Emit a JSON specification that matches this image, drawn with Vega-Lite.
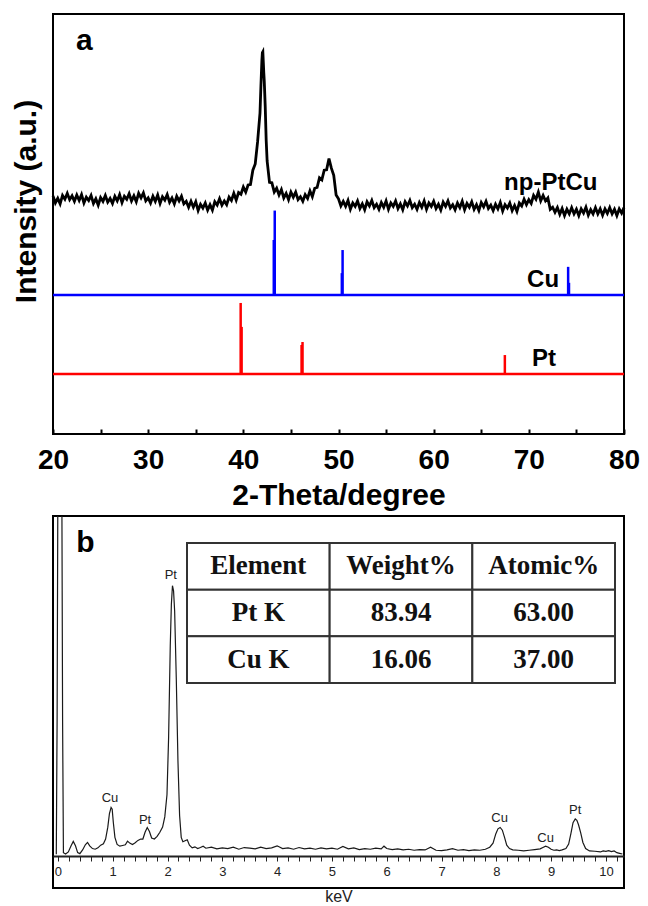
{
  "$schema": "https://vega.github.io/schema/vega-lite/v6.json",
  "background": "white",
  "padding": {"left": 10, "top": 13, "right": 5, "bottom": 0},
  "spacing": 4,
  "config": {
    "view": {"stroke": "black", "strokeWidth": 2},
    "font": "Liberation Sans",
    "axis": {"labelFont": "Liberation Sans", "titleFont": "Liberation Sans", "grid": false}
  },
  "datasets": {
    "xrd": [
      {"t":20.0,"i":56.7},{"t":20.25,"i":55.0},{"t":20.5,"i":56.1},{"t":20.75,"i":54.8},{"t":21.0,"i":56.8},{"t":21.25,"i":55.9},{"t":21.5,"i":57.3},{"t":21.75,"i":55.8},
      {"t":22.0,"i":56.7},{"t":22.25,"i":55.4},{"t":22.5,"i":56.9},{"t":22.75,"i":55.6},{"t":23.0,"i":57.0},{"t":23.25,"i":55.0},{"t":23.5,"i":56.4},{"t":23.75,"i":55.6},
      {"t":24.0,"i":56.8},{"t":24.25,"i":54.9},{"t":24.5,"i":56.0},{"t":24.75,"i":54.5},{"t":25.0,"i":56.3},{"t":25.25,"i":55.4},{"t":25.5,"i":56.8},{"t":25.75,"i":55.2},
      {"t":26.0,"i":56.1},{"t":26.25,"i":54.9},{"t":26.5,"i":56.6},{"t":26.75,"i":55.5},{"t":27.0,"i":57.0},{"t":27.25,"i":55.1},{"t":27.5,"i":56.6},{"t":27.75,"i":55.9},
      {"t":28.0,"i":57.2},{"t":28.25,"i":55.5},{"t":28.5,"i":56.7},{"t":28.75,"i":55.3},{"t":29.0,"i":57.3},{"t":29.25,"i":56.2},{"t":29.5,"i":57.4},{"t":29.75,"i":55.5},
      {"t":30.0,"i":56.2},{"t":30.25,"i":55.0},{"t":30.5,"i":56.6},{"t":30.75,"i":55.4},{"t":31.0,"i":56.9},{"t":31.25,"i":54.9},{"t":31.5,"i":56.5},{"t":31.75,"i":55.7},
      {"t":32.0,"i":57.0},{"t":32.25,"i":55.2},{"t":32.5,"i":56.2},{"t":32.75,"i":54.8},{"t":33.0,"i":56.6},{"t":33.25,"i":55.5},{"t":33.5,"i":56.6},{"t":33.75,"i":54.8},
      {"t":34.0,"i":55.4},{"t":34.25,"i":54.0},{"t":34.5,"i":55.4},{"t":34.75,"i":54.0},{"t":35.0,"i":55.3},{"t":35.25,"i":53.2},{"t":35.5,"i":54.7},{"t":35.75,"i":53.8},
      {"t":36.0,"i":55.0},{"t":36.25,"i":53.3},{"t":36.5,"i":54.6},{"t":36.75,"i":53.3},{"t":37.0,"i":55.3},{"t":37.25,"i":54.5},{"t":37.5,"i":56.0},{"t":37.75,"i":54.5},
      {"t":38.0,"i":55.5},{"t":38.25,"i":54.6},{"t":38.5,"i":56.4},{"t":38.75,"i":55.6},{"t":39.0,"i":57.3},{"t":39.25,"i":55.7},{"t":39.5,"i":57.5},{"t":39.75,"i":57.1},
      {"t":40.0,"i":58.8},{"t":40.25,"i":57.6},{"t":40.5,"i":59.3},{"t":40.75,"i":59.4},{"t":41.0,"i":62.8},{"t":41.25,"i":64.3},{"t":41.5,"i":69.6},{"t":41.75,"i":76.4},
      {"t":41.85,"i":83.0},{"t":41.95,"i":89.0},{"t":42.0,"i":90.8},{"t":42.05,"i":91.0},{"t":42.1,"i":88.5},{"t":42.15,"i":86.0},{"t":42.2,"i":84.0},{"t":42.3,"i":78.0},
      {"t":42.4,"i":70.0},{"t":42.5,"i":65.0},{"t":42.75,"i":59.9},{"t":43.0,"i":59.8},{"t":43.25,"i":57.6},{"t":43.5,"i":58.5},{"t":43.75,"i":56.9},
      {"t":44.0,"i":58.2},{"t":44.25,"i":56.2},{"t":44.5,"i":57.3},{"t":44.75,"i":55.8},{"t":45.0,"i":57.6},{"t":45.25,"i":56.4},{"t":45.5,"i":57.6},{"t":45.75,"i":55.8},
      {"t":46.0,"i":56.5},{"t":46.25,"i":55.4},{"t":46.5,"i":57.0},{"t":46.75,"i":56.1},{"t":47.0,"i":57.9},{"t":47.25,"i":56.5},{"t":47.5,"i":58.5},{"t":47.75,"i":58.7},
      {"t":48.0,"i":61.0},{"t":48.25,"i":60.5},{"t":48.5,"i":62.8},{"t":48.75,"i":62.9},{"t":49.0,"i":65.6},{"t":49.25,"i":63.3},{"t":49.5,"i":61.6},{"t":49.75,"i":56.9},
      {"t":50.0,"i":56.0},{"t":50.25,"i":54.3},{"t":50.5,"i":55.4},{"t":50.75,"i":54.2},{"t":51.0,"i":55.6},{"t":51.25,"i":53.5},{"t":51.5,"i":55.0},{"t":51.75,"i":54.2},
      {"t":52.0,"i":55.5},{"t":52.25,"i":53.7},{"t":52.5,"i":54.8},{"t":52.75,"i":53.4},{"t":53.0,"i":55.3},{"t":53.25,"i":54.3},{"t":53.5,"i":55.6},{"t":53.75,"i":53.9},
      {"t":54.0,"i":54.7},{"t":54.25,"i":53.5},{"t":54.5,"i":55.1},{"t":54.75,"i":54.0},{"t":55.0,"i":55.5},{"t":55.25,"i":53.5},{"t":55.5,"i":55.0},{"t":55.75,"i":54.2},
      {"t":56.0,"i":55.5},{"t":56.25,"i":53.7},{"t":56.5,"i":54.8},{"t":56.75,"i":53.4},{"t":57.0,"i":55.3},{"t":57.25,"i":54.3},{"t":57.5,"i":55.6},{"t":57.75,"i":53.9},
      {"t":58.0,"i":54.7},{"t":58.25,"i":53.5},{"t":58.5,"i":55.1},{"t":58.75,"i":54.0},{"t":59.0,"i":55.5},{"t":59.25,"i":53.5},{"t":59.5,"i":55.0},{"t":59.75,"i":54.2},
      {"t":60.0,"i":55.4},{"t":60.25,"i":53.7},{"t":60.5,"i":54.7},{"t":60.75,"i":53.3},{"t":61.0,"i":55.2},{"t":61.25,"i":54.2},{"t":61.5,"i":55.5},{"t":61.75,"i":53.8},
      {"t":62.0,"i":54.6},{"t":62.25,"i":53.4},{"t":62.5,"i":55.0},{"t":62.75,"i":53.9},{"t":63.0,"i":55.4},{"t":63.25,"i":53.4},{"t":63.5,"i":54.9},{"t":63.75,"i":54.0},
      {"t":64.0,"i":55.3},{"t":64.25,"i":53.5},{"t":64.5,"i":54.6},{"t":64.75,"i":53.2},{"t":65.0,"i":55.1},{"t":65.25,"i":54.1},{"t":65.5,"i":55.4},{"t":65.75,"i":53.7},
      {"t":66.0,"i":54.5},{"t":66.25,"i":53.2},{"t":66.5,"i":54.7},{"t":66.75,"i":53.6},{"t":67.0,"i":55.1},{"t":67.25,"i":53.1},{"t":67.5,"i":54.6},{"t":67.75,"i":53.8},
      {"t":68.0,"i":55.0},{"t":68.25,"i":53.2},{"t":68.5,"i":54.4},{"t":68.75,"i":53.0},{"t":69.0,"i":55.0},{"t":69.25,"i":54.3},{"t":69.5,"i":55.9},{"t":69.75,"i":54.6},
      {"t":70.0,"i":55.8},{"t":70.25,"i":54.9},{"t":70.5,"i":56.8},{"t":70.75,"i":55.9},{"t":71.0,"i":57.6},{"t":71.25,"i":55.5},{"t":71.5,"i":56.8},{"t":71.75,"i":55.5},
      {"t":72.0,"i":56.2},{"t":72.25,"i":53.5},{"t":72.5,"i":54.0},{"t":72.75,"i":52.8},{"t":73.0,"i":53.9},{"t":73.25,"i":52.3},{"t":73.5,"i":53.7},{"t":73.75,"i":52.0},
      {"t":74.0,"i":53.5},{"t":74.25,"i":52.4},{"t":74.5,"i":53.9},{"t":74.75,"i":52.4},{"t":75.0,"i":53.5},{"t":75.25,"i":52.0},{"t":75.5,"i":53.6},{"t":75.75,"i":52.6},
      {"t":76.0,"i":54.0},{"t":76.25,"i":52.1},{"t":76.5,"i":53.4},{"t":76.75,"i":52.4},{"t":77.0,"i":53.9},{"t":77.25,"i":52.4},{"t":77.5,"i":53.6},{"t":77.75,"i":52.1},
      {"t":78.0,"i":53.6},{"t":78.25,"i":52.5},{"t":78.5,"i":53.9},{"t":78.75,"i":52.4},{"t":79.0,"i":53.5},{"t":79.25,"i":52.0},{"t":79.5,"i":53.6},{"t":79.75,"i":52.6},
      {"t":80.0,"i":53.9}
    ],
    "baselines": [
      {"s":"Cu","b":33.1},
      {"s":"Pt","b":14.3}
    ],
    "sticks": [
      {"s":"Cu","t":43.3,"top":53.2,"base":33.1},
      {"s":"Cu","t":43.2,"top":46.2,"base":33.1},
      {"s":"Cu","t":50.43,"top":43.8,"base":33.1},
      {"s":"Cu","t":50.35,"top":38.3,"base":33.1},
      {"s":"Cu","t":74.13,"top":39.8,"base":33.1},
      {"s":"Cu","t":74.22,"top":36.0,"base":33.1},
      {"s":"Pt","t":39.72,"top":31.2,"base":14.3},
      {"s":"Pt","t":39.82,"top":25.5,"base":14.3},
      {"s":"Pt","t":46.22,"top":21.9,"base":14.3},
      {"s":"Pt","t":46.12,"top":21.2,"base":14.3},
      {"s":"Pt","t":67.48,"top":18.8,"base":14.3}
    ],
    "labelsA": [
      {"t":72.3,"i":58.1,"label":"np-PtCu"},
      {"t":71.5,"i":35.0,"label":"Cu"},
      {"t":71.6,"i":16.2,"label":"Pt"}
    ],
    "panelA": [{"t":23.3,"i":91.4,"label":"a"}],
    "panelB": [{"e":0.5,"c":89.4,"label":"b"}],
    "eds": [
      {"e":-0.03,"c":0.5},{"e":-0.015,"c":40},{"e":0.0,"c":115},{"e":0.07,"c":115},{"e":0.085,"c":40},{"e":0.1,"c":1.0},
      {"e":0.14,"c":0.6},{"e":0.19,"c":1.2},{"e":0.24,"c":3.0},{"e":0.28,"c":4.3},{"e":0.32,"c":3.0},{"e":0.36,"c":1.0},
      {"e":0.4,"c":0.7},{"e":0.45,"c":1.8},{"e":0.5,"c":3.3},{"e":0.54,"c":4.0},{"e":0.58,"c":3.0},{"e":0.63,"c":2.2},
      {"e":0.68,"c":2.0},{"e":0.73,"c":2.4},{"e":0.78,"c":3.2},{"e":0.83,"c":3.6},{"e":0.87,"c":5.0},{"e":0.91,"c":8.5},
      {"e":0.94,"c":12.5},{"e":0.97,"c":14.3},{"e":0.99,"c":13.8},{"e":1.01,"c":10.0},{"e":1.04,"c":5.5},{"e":1.08,"c":3.4},
      {"e":1.13,"c":2.9},{"e":1.18,"c":3.1},{"e":1.23,"c":3.3},{"e":1.27,"c":4.4},{"e":1.31,"c":3.8},{"e":1.36,"c":3.4},
      {"e":1.41,"c":3.9},{"e":1.46,"c":4.6},{"e":1.51,"c":5.0},{"e":1.55,"c":5.0},{"e":1.59,"c":7.0},{"e":1.63,"c":8.4},
      {"e":1.67,"c":7.2},{"e":1.71,"c":5.3},{"e":1.76,"c":5.0},{"e":1.81,"c":5.8},{"e":1.86,"c":7.0},{"e":1.91,"c":8.5},
      {"e":1.95,"c":11.5},{"e":1.99,"c":18.0},{"e":2.02,"c":35.0},{"e":2.05,"c":62.0},{"e":2.07,"c":74.0},{"e":2.09,"c":79.5},
      {"e":2.11,"c":78.0},{"e":2.13,"c":72.0},{"e":2.16,"c":52.0},{"e":2.19,"c":28.0},{"e":2.22,"c":12.0},{"e":2.25,"c":5.5},
      {"e":2.28,"c":4.2},{"e":2.32,"c":4.5},{"e":2.36,"c":4.8},{"e":2.4,"c":3.2},{"e":2.45,"c":2.4},{"e":2.5,"c":2.7},
      {"e":2.55,"c":2.2},{"e":2.6,"c":2.5},{"e":2.65,"c":2.9},{"e":2.7,"c":2.3},{"e":2.8,"c":2.6},{"e":2.9,"c":2.1},
      {"e":3.0,"c":2.4},{"e":3.1,"c":2.2},{"e":3.2,"c":2.6},{"e":3.3,"c":2.0},{"e":3.4,"c":2.5},{"e":3.5,"c":2.3},
      {"e":3.6,"c":2.1},{"e":3.7,"c":2.6},{"e":3.8,"c":2.2},{"e":3.9,"c":2.4},{"e":4.0,"c":3.0},{"e":4.1,"c":2.2},
      {"e":4.2,"c":2.4},{"e":4.3,"c":2.0},{"e":4.4,"c":2.5},{"e":4.5,"c":2.1},{"e":4.6,"c":2.3},{"e":4.7,"c":2.0},
      {"e":4.8,"c":2.4},{"e":4.9,"c":2.1},{"e":5.0,"c":2.3},{"e":5.1,"c":2.0},{"e":5.2,"c":2.8},{"e":5.3,"c":2.1},
      {"e":5.4,"c":2.4},{"e":5.5,"c":1.9},{"e":5.6,"c":2.2},{"e":5.7,"c":2.0},{"e":5.8,"c":2.3},{"e":5.9,"c":2.1},
      {"e":5.95,"c":2.9},{"e":6.0,"c":2.2},{"e":6.1,"c":1.9},{"e":6.2,"c":2.1},{"e":6.3,"c":1.8},{"e":6.4,"c":2.0},
      {"e":6.5,"c":1.7},{"e":6.6,"c":1.9},{"e":6.7,"c":1.8},{"e":6.8,"c":2.6},{"e":6.9,"c":1.7},{"e":7.0,"c":1.6},
      {"e":7.1,"c":1.8},{"e":7.2,"c":2.2},{"e":7.3,"c":1.7},{"e":7.4,"c":1.9},{"e":7.5,"c":1.6},{"e":7.6,"c":1.8},
      {"e":7.7,"c":1.7},{"e":7.8,"c":2.0},{"e":7.88,"c":2.6},{"e":7.94,"c":3.8},{"e":7.99,"c":6.5},{"e":8.03,"c":8.0},
      {"e":8.07,"c":8.4},{"e":8.11,"c":7.6},{"e":8.15,"c":5.5},{"e":8.19,"c":3.2},{"e":8.24,"c":2.2},{"e":8.3,"c":1.8},
      {"e":8.4,"c":1.7},{"e":8.5,"c":1.5},{"e":8.6,"c":1.7},{"e":8.7,"c":1.9},{"e":8.8,"c":2.1},{"e":8.85,"c":2.5},
      {"e":8.9,"c":2.9},{"e":8.95,"c":2.6},{"e":9.0,"c":2.0},{"e":9.05,"c":1.7},{"e":9.1,"c":1.8},{"e":9.15,"c":1.6},
      {"e":9.2,"c":1.8},{"e":9.27,"c":2.2},{"e":9.32,"c":3.5},{"e":9.36,"c":6.5},{"e":9.4,"c":9.8},{"e":9.44,"c":10.9},
      {"e":9.47,"c":10.5},{"e":9.5,"c":9.2},{"e":9.54,"c":6.8},{"e":9.58,"c":4.0},{"e":9.63,"c":2.2},{"e":9.7,"c":1.5},
      {"e":9.8,"c":1.4},{"e":9.9,"c":1.2},{"e":9.95,"c":1.5},{"e":10.0,"c":1.4},{"e":10.05,"c":1.6},{"e":10.1,"c":1.3},
      {"e":10.15,"c":1.5},{"e":10.2,"c":1.0},{"e":10.25,"c":0.8},{"e":10.3,"c":0.6}
    ],
    "peaks": [
      {"e":2.06,"c":81.5,"label":"Pt"},
      {"e":0.95,"c":15.9,"label":"Cu"},
      {"e":1.59,"c":9.4,"label":"Pt"},
      {"e":8.06,"c":9.9,"label":"Cu"},
      {"e":8.9,"c":4.1,"label":"Cu"},
      {"e":9.44,"c":12.4,"label":"Pt"}
    ],
    "table": [
      {"row":1,"col":1,"v":"Element"},{"row":1,"col":2,"v":"Weight%"},{"row":1,"col":3,"v":"Atomic%"},
      {"row":2,"col":1,"v":"Pt K"},{"row":2,"col":2,"v":"83.94"},{"row":2,"col":3,"v":"63.00"},
      {"row":3,"col":1,"v":"Cu K"},{"row":3,"col":2,"v":"16.06"},{"row":3,"col":3,"v":"37.00"}
    ]
  },
  "vconcat": [
    {
      "width": 571,
      "height": 420,
      "encoding": {
        "x": {
          "field": "t", "type": "quantitative",
          "scale": {"domain": [20, 80], "nice": false, "zero": false},
          "axis": {
            "values": [20,25,30,35,40,45,50,55,60,65,70,75,80],
            "labelExpr": "datum.value % 10 === 0 ? datum.label : ''",
            "labelOverlap": false, "labelFlush": false,
            "domain": false,
            "tickSize": -5, "tickWidth": 2, "tickColor": "black",
            "labelFontSize": 28, "labelFontWeight": "bold", "labelColor": "black", "labelPadding": 17,
            "title": "2-Theta/degree", "titleFontSize": 30, "titleFontWeight": "bold", "titleColor": "black", "titlePadding": 6
          }
        },
        "y": {
          "field": "i", "type": "quantitative",
          "scale": {"domain": [0, 100], "nice": false, "zero": false},
          "axis": {
            "labels": false, "ticks": false, "domain": false,
            "title": "Intensity (a.u.)", "titleFontSize": 30, "titleFontWeight": "bold", "titleColor": "black",
            "titlePadding": 12, "titleY": 187
          }
        }
      },
      "layer": [
        {
          "data": {"name": "xrd"},
          "mark": {"type": "line", "color": "black", "strokeWidth": 2.8}
        },
        {
          "data": {"name": "baselines"},
          "mark": {"type": "rule", "strokeWidth": 2.5},
          "encoding": {
            "x": null,
            "y": {"field": "b", "type": "quantitative"},
            "color": {"field": "s", "type": "nominal", "scale": {"domain": ["Cu", "Pt"], "range": ["#0000ff", "#ff0000"]}, "legend": null}
          }
        },
        {
          "data": {"name": "sticks"},
          "mark": {"type": "rule", "strokeWidth": 2.5},
          "encoding": {
            "y": {"field": "top", "type": "quantitative"},
            "y2": {"field": "base"},
            "color": {"field": "s", "type": "nominal", "legend": null}
          }
        },
        {
          "data": {"name": "labelsA"},
          "mark": {"type": "text", "fontSize": 24, "fontWeight": "bold", "color": "black", "align": "center", "baseline": "alphabetic"},
          "encoding": {"text": {"field": "label"}}
        },
        {
          "data": {"name": "panelA"},
          "mark": {"type": "text", "fontSize": 30, "fontWeight": "bold", "color": "black", "align": "center", "baseline": "alphabetic"},
          "encoding": {"text": {"field": "label"}}
        }
      ]
    },
    {
      "width": 571,
      "height": 372,
      "layer": [
        {
          "encoding": {
            "x": {
              "field": "e", "type": "quantitative",
              "scale": {"domain": [-0.09, 10.33], "nice": false, "zero": false},
              "axis": {
                "values": [0,0.2,0.4,0.6,0.8,1,1.2,1.4,1.6,1.8,2,2.2,2.4,2.6,2.8,3,3.2,3.4,3.6,3.8,4,4.2,4.4,4.6,4.8,5,5.2,5.4,5.6,5.8,6,6.2,6.4,6.6,6.8,7,7.2,7.4,7.6,7.8,8,8.2,8.4,8.6,8.8,9,9.2,9.4,9.6,9.8,10,10.2],
                "labelExpr": "datum.value % 1 === 0 ? format(datum.value, 'd') : ''",
                "labelOverlap": false, "labelFlush": false,
                "offset": -32,
                "domainColor": "#222", "domainWidth": 2,
                "tickColor": "#222", "tickSize": 5, "tickWidth": 1,
                "labelFontSize": 13, "labelColor": "#222", "labelPadding": 4,
                "title": "keV", "titleFontSize": 16, "titleFontWeight": "normal", "titleColor": "#222", "titlePadding": 10
              }
            },
            "y": {
              "field": "c", "type": "quantitative",
              "scale": {"domain": [-9.4, 100], "nice": false, "zero": false},
              "axis": null
            }
          },
          "layer": [
            {
              "data": {"name": "eds"},
              "mark": {"type": "line", "color": "#1a1a1a", "strokeWidth": 1.2, "clip": true}
            },
            {
              "data": {"name": "peaks"},
              "mark": {"type": "text", "fontSize": 13, "color": "#222", "align": "center", "baseline": "alphabetic"},
              "encoding": {"text": {"field": "label"}}
            },
            {
              "data": {"name": "panelB"},
              "mark": {"type": "text", "fontSize": 30, "fontWeight": "bold", "color": "black", "align": "center", "baseline": "alphabetic"},
              "encoding": {"text": {"field": "label"}}
            },
            {
              "data": {"values": [{}]},
              "mark": {"type": "rule", "strokeWidth": 4, "color": "black"},
              "encoding": {"x": null, "y": {"datum": -9.4}}
            },
            {
              "data": {"values": [{}]},
              "mark": {"type": "rule", "strokeWidth": 3, "color": "black"},
              "encoding": {"y": null, "x": {"datum": 10.33}}
            }
          ]
        },
        {
          "data": {"name": "table"},
          "encoding": {
            "x": {"field": "col", "type": "ordinal", "scale": {"type": "band", "domain": [1, 2, 3], "range": [134, 562], "paddingInner": 0, "paddingOuter": 0}, "axis": null},
            "y": {"field": "row", "type": "ordinal", "scale": {"type": "band", "domain": [1, 2, 3], "range": [27, 167], "paddingInner": 0, "paddingOuter": 0}, "axis": null}
          },
          "layer": [
            {
              "mark": {"type": "rect", "fill": "white", "stroke": "#333", "strokeWidth": 2}
            },
            {
              "mark": {"type": "text", "font": "Liberation Serif", "fontWeight": "bold", "fontSize": 27, "color": "#111", "baseline": "middle", "align": "center"},
              "encoding": {"text": {"field": "v"}}
            }
          ]
        }
      ],
      "resolve": {"scale": {"x": "independent", "y": "independent"}}
    }
  ]
}
